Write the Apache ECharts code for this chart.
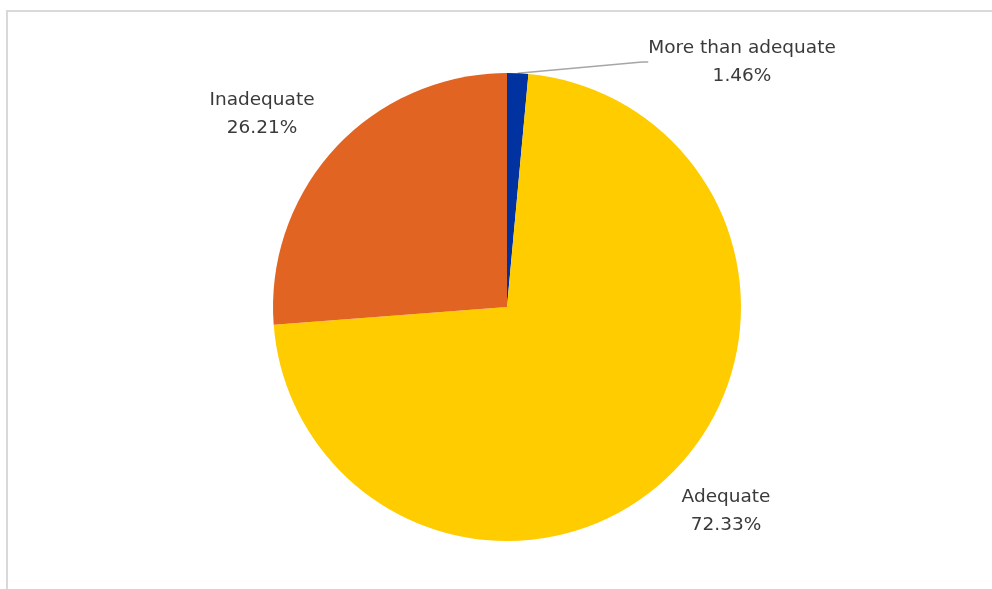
<!DOCTYPE html>
<html>
<head>
<meta charset="utf-8">
<script src="https://cdn.jsdelivr.net/npm/echarts@6/dist/echarts.min.js"></script>
<style>
  html, body { margin: 0; padding: 0; background: #ffffff; }
  #frame { position: absolute; left: 6px; top: 10px; right: -4px; bottom: -4px; border-left: 2px solid #d9d9d9; border-top: 2px solid #d9d9d9; }
  #chart { width: 992px; height: 589px; }
</style>
</head>
<body>
<div id="frame"></div>
<div id="chart"></div>
<script>
// Response categories and their shares (%)
const categories = ['More than adequate', 'Adequate', 'Inadequate'];
const shares = [1.46, 72.33, 26.21];
const sliceColors = ['#0033a0', '#ffcc00', '#e26422'];

// Where each category's label sits (label centre, px)
const labelSpots = [[742, 62], [726, 511], [262, 114]];

const chart = echarts.init(document.getElementById('chart'), null, { renderer: 'canvas' });

chart.setOption({
  animation: false,
  backgroundColor: 'transparent',
  series: [{
    type: 'pie',
    center: [507, 307],
    radius: 234,
    startAngle: 90,
    clockwise: true,
    data: categories.map((name, i) => ({
      name,
      value: shares[i],
      itemStyle: { color: sliceColors[i] },
      labelLine: { show: i === 0 }
    })),
    label: {
      show: true,
      position: 'outside',
      formatter: p => p.name + '\n' + p.value.toFixed(2) + '%',
      fontFamily: '"DejaVu Sans", sans-serif',
      fontSize: 18.5,
      lineHeight: 28,
      color: '#3a3a3a',
      align: 'center'
    },
    labelLine: {
      show: false,
      length: 10,
      length2: 6,
      lineStyle: { color: '#a6a6a6', width: 1.5 }
    },
    labelLayout: params => ({
      x: labelSpots[params.dataIndex][0],
      y: labelSpots[params.dataIndex][1],
      align: 'center',
      verticalAlign: 'middle',
      moveOverlap: false
    })
  }]
});
</script>
</body>
</html>
